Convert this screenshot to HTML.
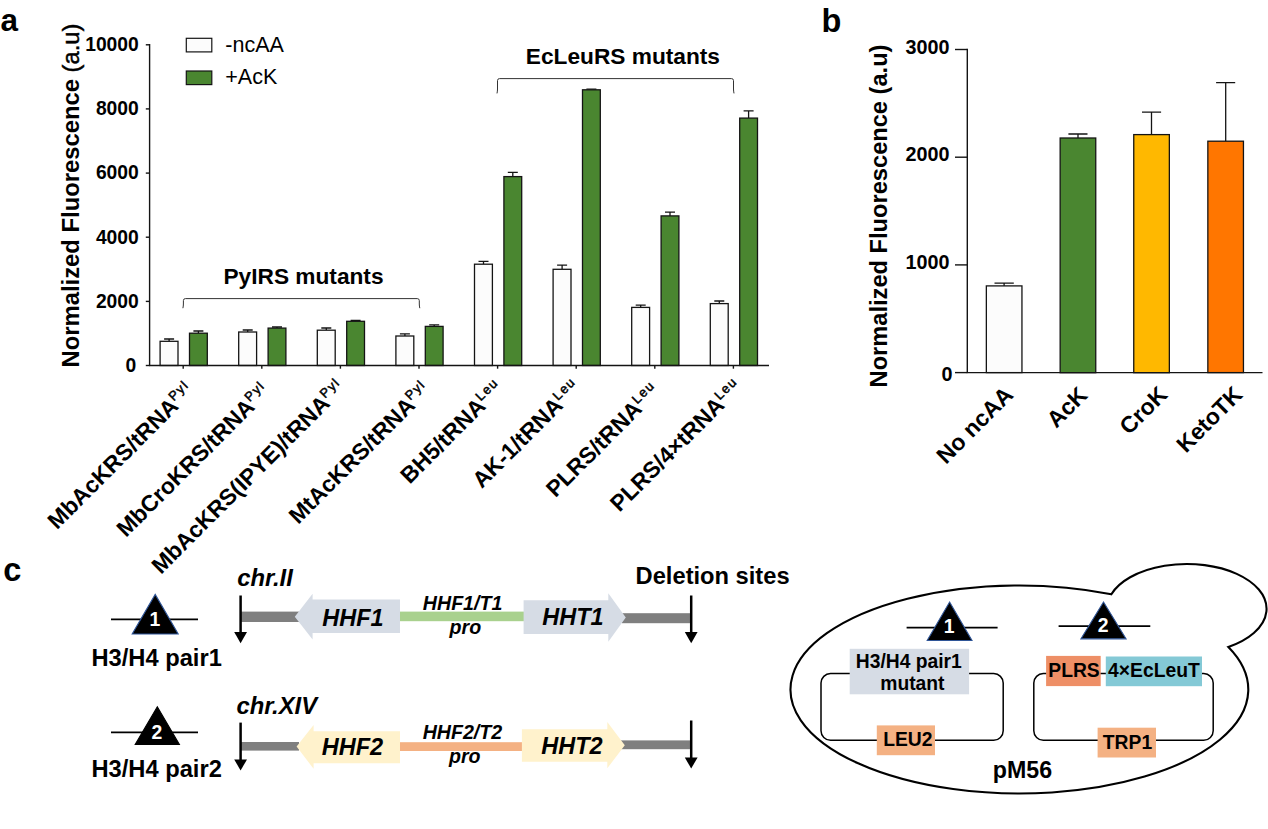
<!DOCTYPE html>
<html lang="en">
<head>
<meta charset="utf-8">
<title>Figure</title>
<style>
html,body{margin:0;padding:0;background:#fff;}
body{width:1268px;height:829px;overflow:hidden;}
svg{display:block;}
text{font-family:"Liberation Sans",Arial,Helvetica,sans-serif;fill:#000;}
.b{font-weight:700;}
.bi{font-weight:700;font-style:italic;}
</style>
</head>
<body>
<svg width="1268" height="829" viewBox="0 0 1268 829">
<rect x="0" y="0" width="1268" height="829" fill="#fff"/>

<g class="b" font-size="32.5">
<text x="0.4" y="30.5" font-size="31.5">a</text>
<text x="821.6" y="31.6">b</text>
<text x="3.2" y="581">c</text>
</g>
<g id="chart-a">
<text class="b" font-size="23.8" transform="translate(79.4,367.4) rotate(-90)">Normalized Fluorescence <tspan font-weight="400" stroke="#000" stroke-width="0.45">(a.u)</tspan></text>
<g class="b" font-size="19.3" text-anchor="end">
<text x="136.3" y="371.8">0</text>
<text x="138.8" y="307.7">2000</text>
<text x="138.8" y="243.5">4000</text>
<text x="138.8" y="179.4">6000</text>
<text x="138.8" y="115.2">8000</text>
<text x="138.8" y="51.1">10000</text>
</g>
<g stroke="#141414" stroke-width="1.3" fill="none">
<path d="M169.1 341.3V339.0M164.1 339.0H174.1"/>
<path d="M198.4 333.2V331.0M193.4 331.0H203.4"/>
<rect x="160.1" y="341.3" width="17.9" height="24.2" fill="#fcfcfc"/>
<rect x="189.5" y="333.2" width="17.8" height="32.3" fill="#4a8630"/>
<path d="M247.7 332.0V330.0M242.7 330.0H252.7"/>
<path d="M277.0 328.1V327.0M272.0 327.0H282.0"/>
<rect x="238.7" y="332.0" width="17.9" height="33.5" fill="#fcfcfc"/>
<rect x="268.1" y="328.1" width="17.8" height="37.4" fill="#4a8630"/>
<path d="M326.3 330.2V328.0M321.3 328.0H331.3"/>
<path d="M355.6 321.3V320.3M350.6 320.3H360.6"/>
<rect x="317.3" y="330.2" width="17.9" height="35.3" fill="#fcfcfc"/>
<rect x="346.7" y="321.3" width="17.8" height="44.2" fill="#4a8630"/>
<path d="M404.9 336.0V333.8M399.9 333.8H409.9"/>
<path d="M434.2 326.4V324.8M429.2 324.8H439.2"/>
<rect x="395.9" y="336.0" width="17.9" height="29.5" fill="#fcfcfc"/>
<rect x="425.3" y="326.4" width="17.8" height="39.1" fill="#4a8630"/>
<path d="M483.5 264.2V261.3M478.5 261.3H488.5"/>
<path d="M512.8 176.6V172.4M507.8 172.4H517.8"/>
<rect x="474.5" y="264.2" width="17.9" height="101.3" fill="#fcfcfc"/>
<rect x="503.9" y="176.6" width="17.8" height="188.9" fill="#4a8630"/>
<path d="M562.1 269.3V265.1M557.1 265.1H567.1"/>
<path d="M591.4 89.8V89.2M586.4 89.2H596.4"/>
<rect x="553.1" y="269.3" width="17.9" height="96.2" fill="#fcfcfc"/>
<rect x="582.5" y="89.8" width="17.8" height="275.7" fill="#4a8630"/>
<path d="M640.7 307.4V305.1M635.7 305.1H645.7"/>
<path d="M670.0 215.9V212.1M665.0 212.1H675.0"/>
<rect x="631.7" y="307.4" width="17.9" height="58.1" fill="#fcfcfc"/>
<rect x="661.1" y="215.9" width="17.8" height="149.6" fill="#4a8630"/>
<path d="M719.3 303.6V301.0M714.3 301.0H724.3"/>
<path d="M748.6 118.1V110.8M743.6 110.8H753.6"/>
<rect x="710.3" y="303.6" width="17.9" height="61.9" fill="#fcfcfc"/>
<rect x="739.7" y="118.1" width="17.8" height="247.4" fill="#4a8630"/>
</g>
<g stroke="#141414" stroke-width="1.4" fill="none">
<path d="M149.6 44.1V365.5H769.0"/>
<path d="M145.79999999999998 365.5H149.6"/>
<path d="M145.79999999999998 301.4H149.6"/>
<path d="M145.79999999999998 237.2H149.6"/>
<path d="M145.79999999999998 173.1H149.6"/>
<path d="M145.79999999999998 108.9H149.6"/>
<path d="M145.79999999999998 44.8H149.6"/>
<path d="M183.2 365.5V368.7"/>
<path d="M261.8 365.5V368.7"/>
<path d="M340.4 365.5V368.7"/>
<path d="M419.0 365.5V368.7"/>
<path d="M497.6 365.5V368.7"/>
<path d="M576.2 365.5V368.7"/>
<path d="M654.8 365.5V368.7"/>
<path d="M733.4 365.5V368.7"/>
</g>
<rect x="186.3" y="38.3" width="25.5" height="13.6" fill="#fcfcfc" stroke="#141414" stroke-width="1.2"/>
<rect x="186.3" y="71" width="25.5" height="13.6" fill="#4a8630" stroke="#141414" stroke-width="1.2"/>
<text font-size="21.5" x="225.3" y="51.8">-ncAA</text>
<text font-size="21.5" x="225.3" y="83.8">+AcK</text>
<g stroke="#333" stroke-width="1" fill="none">
<path d="M182.9 308.2Q183.4 306 183.4 304V300.6Q183.4 298.6 185.4 298.6H417.3Q419.3 298.6 419.3 300.6V304Q419.3 306 419.8 308.2"/>
<path d="M497 93.4Q497.5 91 497.5 89V80.6Q497.5 78.6 499.5 78.6H731.5Q733.5 78.6 733.5 80.6V89Q733.5 91 734 93.4"/>
</g>
<g class="b" font-size="22.7" text-anchor="middle">
<text x="303.5" y="283.9">PyIRS mutants</text>
<text x="622.9" y="64.1">EcLeuRS mutants</text>
</g>
<g class="b" text-anchor="end">
<text font-size="22.8" letter-spacing="0" transform="translate(195.5,391.8) rotate(-45)">MbAcKRS/tRNA<tspan dy="-8.5" font-size="13" font-weight="400" letter-spacing="1.4" stroke="#000" stroke-width="0.5">Pyl</tspan></text>
<text font-size="22.8" letter-spacing="0" transform="translate(271.6,392.5) rotate(-45)">MbCroKRS/tRNA<tspan dy="-8.5" font-size="13" font-weight="400" letter-spacing="1.4" stroke="#000" stroke-width="0.5">Pyl</tspan></text>
<text font-size="22.8" letter-spacing="0" transform="translate(346.8,389.1) rotate(-45)">MbAcKRS(IPYE)/tRNA<tspan dy="-8.5" font-size="13" font-weight="400" letter-spacing="1.4" stroke="#000" stroke-width="0.5">Pyl</tspan></text>
<text font-size="22.8" letter-spacing="0" transform="translate(432.1,391.1) rotate(-45)">MtAcKRS/tRNA<tspan dy="-8.5" font-size="13" font-weight="400" letter-spacing="1.4" stroke="#000" stroke-width="0.5">Pyl</tspan></text>
<text font-size="22.8" letter-spacing="0" transform="translate(505.1,389.3) rotate(-45)">BH5/tRNA<tspan dy="-8.5" font-size="13" font-weight="400" letter-spacing="1.4" stroke="#000" stroke-width="0.5">Leu</tspan></text>
<text font-size="22.8" letter-spacing="0" transform="translate(582.4,388.6) rotate(-45)">AK-1/tRNA<tspan dy="-8.5" font-size="13" font-weight="400" letter-spacing="1.4" stroke="#000" stroke-width="0.5">Leu</tspan></text>
<text font-size="22.8" letter-spacing="0" transform="translate(661.5,392.1) rotate(-45)">PLRS/tRNA<tspan dy="-8.5" font-size="13" font-weight="400" letter-spacing="1.4" stroke="#000" stroke-width="0.5">Leu</tspan></text>
<text font-size="22.8" letter-spacing="0" transform="translate(744.0,388.3) rotate(-45)">PLRS/4×tRNA<tspan dy="-8.5" font-size="13" font-weight="400" letter-spacing="1.4" stroke="#000" stroke-width="0.5">Leu</tspan></text>
</g>
</g>
<g id="chart-b">
<text class="b" font-size="23.65" transform="translate(887.4,387.4) rotate(-90)">Normalized Fluorescence (a.u)</text>
<g class="b" font-size="19.8" text-anchor="end">
<text x="949.6" y="269.4">1000</text>
<text x="949.6" y="160.6">2000</text>
<text x="949.6" y="54.0">3000</text>
<text x="952.6" y="380.6">0</text>
</g>
<g stroke="#141414" stroke-width="1.3" fill="none">
<path d="M1004.1 285.9V283.2M994.5 283.2H1013.8"/>
<rect x="986.35" y="285.9" width="35.6" height="86.7" fill="#fcfcfc"/>
<path d="M1078.0 137.9V134.0M1068.4 134.0H1087.5"/>
<rect x="1060.15" y="138.0" width="35.6" height="234.7" fill="#4a8630"/>
<path d="M1151.5 134.5V112.2M1142.0 112.2H1161.1"/>
<rect x="1133.75" y="134.6" width="35.6" height="238.1" fill="#ffb800"/>
<path d="M1225.7 141.2V82.7M1216.1 82.7H1235.2"/>
<rect x="1207.85" y="141.2" width="35.6" height="231.4" fill="#ff7600"/>
</g>
<g stroke="#141414" stroke-width="1.4" fill="none">
<path d="M967.3 48.8V372.6H1262.5"/>
<path d="M955.0 372.6H967.3"/>
<path d="M955.0 264.9H967.3"/>
<path d="M955.0 157.2H967.3"/>
<path d="M955.0 49.5H967.3"/>
</g>
<g class="b" font-size="23" text-anchor="end">
<text transform="translate(1014.6,396.2) rotate(-45)">No ncAA</text>
<text transform="translate(1088.8,396.5) rotate(-45)">AcK</text>
<text transform="translate(1168.8,396.0) rotate(-45)">CroK</text>
<text transform="translate(1243.8,396.0) rotate(-45)">KetoTK</text>
</g>
</g>
<g id="panel-c">
<path d="M111 619.4H198" stroke="#000" stroke-width="1.6" fill="none"/>
<path d="M155.2 594.4L178.2 634.0500000000001H132.2Z" fill="#000" stroke="#2f5597" stroke-width="1.1" stroke-linejoin="miter"/>
<text class="b" font-size="19.4" text-anchor="middle" x="154.79999999999998" y="626.3" style="fill:#fff">1</text>
<path d="M111 732.4H198" stroke="#000" stroke-width="1.6" fill="none"/>
<path d="M157.3 706.8L179.4 744.45H135.20000000000002Z" fill="#000" stroke="#000" stroke-width="1.1" stroke-linejoin="miter"/>
<text class="b" font-size="19.4" text-anchor="middle" x="156.9" y="739.3" style="fill:#fff">2</text>
<g class="b" font-size="23.7">
<text x="91.5" y="666.2">H3/H4 pair1</text>
<text x="91.5" y="777.2">H3/H4 pair2</text>
<text x="635.6" y="584.3">Deletion sites</text>
</g>
<g class="bi" font-size="23.8">
<text x="237.2" y="585.8">chr.II</text>
<text x="236.4" y="714.3">chr.XIV</text>
</g>
<rect x="241" y="611.6" width="58" height="10.4" fill="#7f7f7f"/>
<rect x="622" y="613.2" width="69" height="10" fill="#7f7f7f"/>
<rect x="399" y="611.6" width="126" height="9.6" fill="#a9d18e"/>
<path d="M294.8 616.7L312.6 593.8V599.6H400V633H312.6V639.4Z" fill="#d6dce5"/>
<path d="M523.6 600.2H608.3V593.3L625.8 617.4L608.3 641.8V634H523.6Z" fill="#d6dce5"/>
<path d="M240.6 595.5V635.3" stroke="#000" stroke-width="2.5" fill="none"/>
<path d="M234.2 632.0999999999999H247.0L240.6 643.3Z" fill="#000"/>
<path d="M691.2 595.5V635.2" stroke="#000" stroke-width="2.5" fill="none"/>
<path d="M684.8000000000001 632.0H697.6L691.2 643.2Z" fill="#000"/>
<rect x="241" y="742" width="58" height="8.6" fill="#7f7f7f"/>
<rect x="621" y="740.4" width="70" height="8.8" fill="#7f7f7f"/>
<rect x="399" y="742.2" width="124" height="8.8" fill="#f4b183"/>
<path d="M296.6 746.6L313.6 725V731.2H400V763.2H313.6V768.8Z" fill="#fff2cc"/>
<path d="M521.9 729.3H607.3V722L624.8 745.2L607.3 768.3V761.7H521.9Z" fill="#fff2cc"/>
<path d="M240.6 722.6V762.6" stroke="#000" stroke-width="2.5" fill="none"/>
<path d="M234.2 759.4H247.0L240.6 770.6Z" fill="#000"/>
<path d="M691.2 720.5V760.6" stroke="#000" stroke-width="2.5" fill="none"/>
<path d="M684.8000000000001 757.4H697.6L691.2 768.6Z" fill="#000"/>
<g class="bi" font-size="23.5">
<text x="322.3" y="626.1">HHF1</text>
<text x="542.3" y="625.3">HHT1</text>
<text x="321.8" y="755">HHF2</text>
<text x="541.3" y="754.3">HHT2</text>
</g>
<g class="bi" font-size="19.6" text-anchor="middle">
<text x="462.6" y="609.5">HHF1/T1</text>
<text x="465.4" y="633.6">pro</text>
<text x="462.4" y="739">HHF2/T2</text>
<text x="464.8" y="762.8">pro</text>
</g>
<path d="M1111.37 594.26 A79.75 44.8 0 1 1 1228.35 647.04 A228.9 104.0 0 1 1 1111.37 594.26Z" fill="#fff" stroke="#000" stroke-width="2.1" stroke-linejoin="miter"/>
<rect x="821" y="673.6" width="182.2" height="66.6" rx="9.5" ry="9.5" fill="none" stroke="#000" stroke-width="1.5"/>
<rect x="1033.8" y="673.6" width="179.4" height="66.6" rx="9.5" ry="9.5" fill="none" stroke="#000" stroke-width="1.5"/>
<rect x="849.7" y="648.8" width="119.4" height="45.5" fill="#d6dce5"/>
<rect x="876.8" y="725.4" width="58.2" height="29.8" fill="#f4b183"/>
<rect x="1046.1" y="655.9" width="54.6" height="30.2" fill="#ee8f66"/>
<rect x="1105.8" y="656.5" width="96.2" height="29.7" fill="#84c9d6"/>
<rect x="1097.6" y="727.7" width="58.4" height="29.8" fill="#f4b183"/>
<g class="b" font-size="19.3" text-anchor="middle">
<text x="908.8" y="667.5">H3/H4 pair1</text>
<text x="912.4" y="690.2">mutant</text>
<text x="907.8" y="746.4">LEU2</text>
<text x="1074" y="676.8">PLRS</text>
<text x="1153.9" y="676.8">4×EcLeuT</text>
<text x="1127.5" y="748.8">TRP1</text>
</g>
<text class="b" font-size="23.2" text-anchor="middle" x="1022.5" y="777.6">pM56</text>
<path d="M906.6 627.6H997.6" stroke="#000" stroke-width="1.6" fill="none"/>
<path d="M949.6 602L972.0000000000001 640.45H927.1999999999999Z" fill="#000" stroke="#2f5597" stroke-width="1.1" stroke-linejoin="miter"/>
<text class="b" font-size="19.4" text-anchor="middle" x="949.2" y="633.4" style="fill:#fff">1</text>
<path d="M1058.6 626.1H1150.3" stroke="#000" stroke-width="1.6" fill="none"/>
<path d="M1103.5 602L1126.1000000000001 638.85H1080.8999999999999Z" fill="#000" stroke="#2f5597" stroke-width="1.1" stroke-linejoin="miter"/>
<text class="b" font-size="19.4" text-anchor="middle" x="1103.1" y="632.2" style="fill:#fff">2</text>
</g>
</svg>
</body>
</html>
